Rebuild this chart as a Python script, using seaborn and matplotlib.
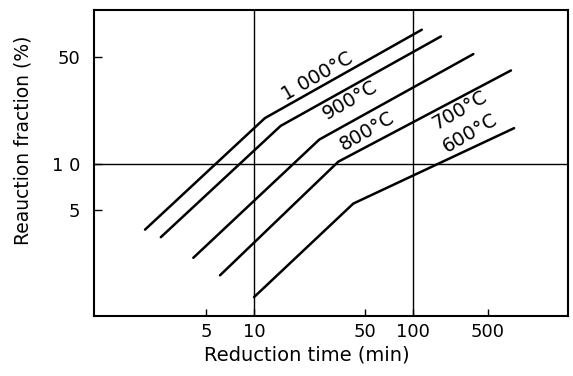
import matplotlib
matplotlib.use("Agg")
import matplotlib.pyplot as plt
import seaborn as sns
import pandas as pd

# Data (log-log), each series: start, break, end
temps = ["1 000°C", "900°C", "800°C", "700°C", "600°C"]
time_1000 = [2.07, 11.7, 113]
frac_1000 = [3.69, 19.9, 75.7]
time_900 = [2.6, 14.7, 149]
frac_900 = [3.29, 17.7, 68.4]
time_800 = [4.16, 25.7, 238]
frac_800 = [2.41, 14.4, 52.4]
time_700 = [6.12, 33.8, 410]
frac_700 = [1.85, 10.3, 40.9]
time_600 = [10.0, 42.0, 429]
frac_600 = [1.33, 5.47, 17.1]

# label anchor positions (data coords)
label_x = [24.8, 40.1, 50.9, 196, 227]
label_y = [37.3, 26.3, 16.3, 22.6, 15.9]

xtick_pos = [5, 10, 50, 100, 293]
xtick_labels = ["5", "10", "50", "100", "500"]
ytick_pos = [5, 10, 50]
ytick_labels = ["5", "1 0", "50"]
grid_x = [10, 100]
grid_y = [10]

times = [time_1000, time_900, time_800, time_700, time_600]
fracs = [frac_1000, frac_900, frac_800, frac_700, frac_600]
rows = []
for t, xs, ys in zip(temps, times, fracs):
    for i, (x, y) in enumerate(zip(xs, ys)):
        rows.append({"temp": t, "time": x, "frac": y, "order": i})
df = pd.DataFrame(rows)

sns.set_style("white")
plt.rcParams["font.family"] = ["DejaVu Sans"]

fig = plt.figure(figsize=(5.73, 3.76), dpi=100)
ax = fig.add_axes([94/573, 1-316/376, 474/573, 306/376])

sns.lineplot(data=df, x="time", y="frac", hue="temp", units="temp",
             estimator=None, sort=False, palette=["black"]*5,
             linewidth=1.8, legend=False, ax=ax)

ax.set_xscale("log")
ax.set_yscale("log")
ax.set_xlim(0.99, 935)
ax.set_ylim(1.0, 102)

for gx in grid_x:
    ax.axvline(gx, color="black", lw=1.0, zorder=0)
for gy in grid_y:
    ax.axhline(gy, color="black", lw=1.0, zorder=0)

ax.xaxis.set_minor_locator(matplotlib.ticker.NullLocator())
ax.yaxis.set_minor_locator(matplotlib.ticker.NullLocator())
ax.set_xticks(xtick_pos)
ax.set_xticklabels(xtick_labels)
ax.set_yticks(ytick_pos)
ax.set_yticklabels(ytick_labels)
ax.tick_params(axis="x", direction="in", length=5, width=1.0, pad=5,
               labelsize=13, colors="black", bottom=True)
ax.tick_params(axis="y", direction="in", length=6, width=1.0, pad=10,
               labelsize=13, colors="black", left=True)

for s in ax.spines.values():
    s.set_color("black")
    s.set_linewidth(1.5)

ax.set_xlabel("Reduction time (min)", fontsize=14, color="black")
ax.set_ylabel("Reauction fraction (%)", fontsize=13.5, color="black")
ax.xaxis.set_label_coords(0.449, -0.097)
ax.yaxis.set_label_coords(-0.15, 0.575)
ax.xaxis.label.set_va("top")
ax.yaxis.label.set_va("center")

for t, lx, ly in zip(temps, label_x, label_y):
    ax.text(lx, ly, t, rotation=30, rotation_mode="anchor", ha="center",
            va="center", fontsize=14, color="black")

fig.savefig("out.png", dpi=100)
